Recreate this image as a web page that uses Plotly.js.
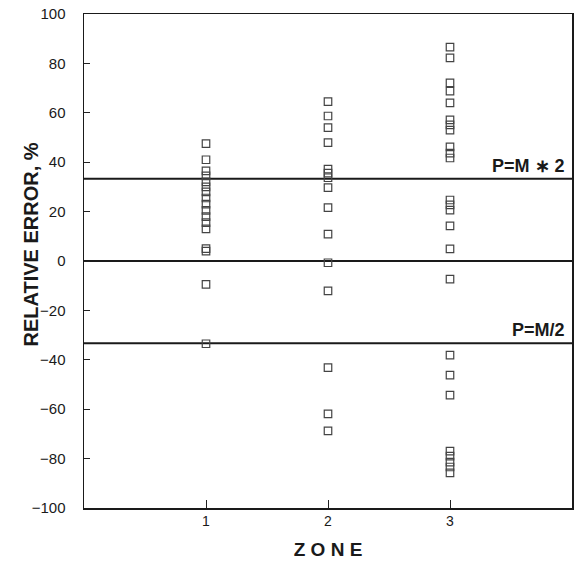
<!DOCTYPE html>
<html>
<head>
<meta charset="utf-8">
<script src="https://cdn.plot.ly/plotly-3.0.1.min.js"></script>
<style>
  html, body { margin: 0; padding: 0; background: #fff; }
  #chart { width: 574px; height: 561px; }
</style>
</head>
<body>
<div id="chart"></div>
<script>
// Relative error (%) of predicted vs. measured values, grouped by zone
const zones = [1, 2, 3];
const zone1Errors = [47.5, 41, 36.5, 34.5, 32, 30, 28, 25.5, 23, 20.5, 18, 15.5, 13, 5, 4, -9.5, -33.5];
const zone2Errors = [64.5, 58.7, 54, 47.9, 37.2, 35.6, 33.7, 29.7, 21.6, 10.9, -0.7, -12.1, -43.2, -61.9, -68.8];
const zone3Errors = [86.6, 82.2, 72.1, 68.8, 64.0, 57.1, 55.1, 53.0, 46.2, 43.7, 41.7,
                     24.7, 22.7, 20.6, 14.2, 4.9, -7.3, -38.1, -46.2, -54.3,
                     -77.0, -79.0, -81.4, -83.4, -85.8];

// Reference levels: P = M*2, perfect agreement, P = M/2
const refLevels = [33.3, 0, -33.3];
const refLabels = ["P=M \u2217 2", "", "P=M/2"];
const xSpan = [0, 4];
const yTicks = [100, 80, 60, 40, 20, 0, -20, -40, -60, -80, -100];

const groups = [zone1Errors, zone2Errors, zone3Errors];
const traces = [];

refLevels.forEach(function (lvl) {
  traces.push({
    x: xSpan, y: [lvl, lvl], mode: "lines", type: "scatter",
    line: { color: "#1a1a1a", width: 2 }, hoverinfo: "skip", showlegend: false
  });
});

groups.forEach(function (vals, i) {
  traces.push({
    x: vals.map(function () { return zones[i]; }),
    y: vals,
    mode: "markers", type: "scatter", showlegend: false,
    marker: { symbol: "square-open", size: 7.5, color: "#444", line: { width: 1.2 } }
  });
});

const annotations = [];
refLevels.forEach(function (lvl, i) {
  if (!refLabels[i]) return;
  annotations.push({
    x: 3.96, y: lvl, xref: "x", yref: "y", xanchor: "right", yanchor: "bottom",
    yshift: 1, showarrow: false, text: "<b>" + refLabels[i] + "</b>",
    font: { family: "Liberation Sans, Arial, sans-serif", size: 18, color: "#1a1a1a" }
  });
});

// Vertical axis title placed beside the tick labels
annotations.push({
  xref: "paper", yref: "paper", x: -0.109, y: 0.533,
  xanchor: "center", yanchor: "middle", textangle: -90, showarrow: false,
  text: "<b>RELATIVE ERROR, %</b>",
  font: { family: "Liberation Sans, Arial, sans-serif", size: 20, color: "#1a1a1a" }
});

const layout = {
  width: 574, height: 561,
  margin: { l: 84, r: 2, t: 14, b: 53 },
  paper_bgcolor: "#fff", plot_bgcolor: "#fff",
  font: { family: "Liberation Sans, Arial, sans-serif", color: "#1a1a1a", size: 14 },
  xaxis: {
    range: xSpan, tickvals: zones, ticktext: zones.map(String),
    ticks: "inside", ticklen: 8, tickwidth: 1, tickcolor: "#222",
    showline: true, linecolor: "#1a1a1a", linewidth: 1.5, mirror: true,
    showgrid: false, zeroline: false,
    tickfont: { size: 14 },
    title: { text: "<b>Z O N E</b>", font: { size: 19 }, standoff: 14 }
  },
  yaxis: {
    range: [-100, 100], tickvals: yTicks,
    ticks: "inside", ticklen: 6, tickwidth: 1, tickcolor: "#222",
    showline: true, linecolor: "#1a1a1a", linewidth: 1.5, mirror: true,
    showgrid: false, zeroline: false, ticklabelstandoff: 14,
    tickfont: { size: 15 }
  },
  annotations: annotations
};

Plotly.newPlot("chart", traces, layout, { displayModeBar: false, staticPlot: true });
</script>
</body>
</html>
